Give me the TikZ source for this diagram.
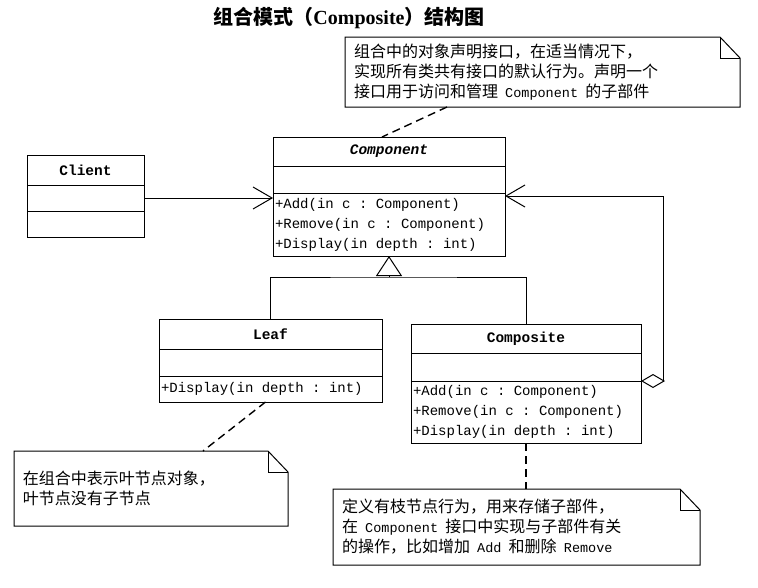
\documentclass[tikz,border=0pt]{standalone}
\usepackage{fontspec}
\setmainfont{Liberation Serif}
\setmonofont{Liberation Mono}
\newfontfamily\cjk{Noto Sans CJK SC}
\usetikzlibrary{arrows.meta, positioning, calc}
\newcommand{\cod}[1]{\hspace{0.45em}{\fontsize{13.5}{20}\selectfont\ttfamily #1}\hspace{0.45em}}
\newcommand{\piega}[1]{
\draw (#1.north west) -- ([xshift=-20pt]#1.north east) -- ([yshift=-21pt]#1.north east) -- (#1.south east) -- (#1.south west) -- cycle;
\draw ([xshift=-20pt]#1.north east) |- ([yshift=-21pt]#1.north east);
}

\begin{document}
\begin{tikzpicture}[x=1pt, y=-1pt, line width=1pt,
    parte/.style = {draw, outer sep=0pt, inner sep=2pt, anchor=north west},
    testa/.style = {parte, font=\fontsize{14.5}{16}\selectfont\ttfamily\bfseries},
    metodi/.style = {parte, align=flush left, font=\fontsize{14}{20}\selectfont\ttfamily},
    nota/.style = {outer sep=0pt, inner xsep=9pt, anchor=north west, align=flush left, font=\cjk\fontsize{16}{20}\selectfont},
    tratteggio/.style = {dash pattern=on 8pt off 5pt, line width=1.4pt},
    freccia/.style = {-{Straight Barb[length=19pt, width=22pt]}}]
    \useasboundingbox (0,0) rectangle (758,587);
    % Titolo
    \node[font=\fontsize{20}{24}\selectfont\bfseries] (titolo) at (349,18) {{\cjk 组合模式（}Composite{\cjk ）结构图}};
    % Classe Component
    \node[testa, minimum width=232pt, minimum height=29pt, font=\fontsize{14.5}{16}\selectfont\ttfamily\bfseries\itshape] (compT) at (273,137) {Component};
    \node[parte, below=0pt of compT, minimum width=232pt, minimum height=27pt] (compA) {};
    \node[metodi, below=0pt of compA, text width=228pt, minimum height=63pt] (compM) {+Add(in c : Component)\\+Remove(in c : Component)\\+Display(in depth : int)};
    % Classe Client
    \node[testa, minimum width=117pt, minimum height=30pt] (clientT) at (27,155) {Client};
    \node[parte, below=0pt of clientT, minimum width=117pt, minimum height=26pt] (clientA) {};
    \node[parte, below=0pt of clientA, minimum width=117pt, minimum height=26pt] (clientO) {};
    % Classe Leaf
    \node[testa, minimum width=223pt, minimum height=30pt] (leafT) at (159,319) {Leaf};
    \node[parte, below=0pt of leafT, minimum width=223pt, minimum height=27pt] (leafA) {};
    \node[metodi, below=0pt of leafA, text width=219pt, minimum height=26pt] (leafM) {+Display(in depth : int)};
    % Classe Composite
    \node[testa, minimum width=230pt, minimum height=29pt] (compoT) at (411,324) {Composite};
    \node[parte, below=0pt of compoT, minimum width=230pt, minimum height=28pt] (compoA) {};
    \node[metodi, below=0pt of compoA, text width=226pt, minimum height=62pt] (compoM) {+Add(in c : Component)\\+Remove(in c : Component)\\+Display(in depth : int)};
    % Associazione Client -> Component
    \draw[freccia] (clientA.east) -- (clientA.east -| compM.west);
    % Generalizzazione
    \coordinate (gen) at ([yshift=-21pt]compM.south);
    \draw[-{Triangle[open, length=20pt, width=26pt]}] (gen) -- (compM.south);
    \draw (leafT.north) |- (gen) -| (compoT.north);
    % Aggregazione Composite -> Component
    \draw[{Diamond[open, length=24pt, width=14pt]}-{Straight Barb[length=19pt, width=22pt]}] (compoA.south east) -- ++(22,0) |- ([yshift=-3pt]compM.north east);
    % Note
    \node[nota, text width=377pt, minimum height=70pt] (notaComp) at (345,37) {组合中的对象声明接口，在适当情况下，\\实现所有类共有接口的默认行为。声明一个\\接口用于访问和管理\cod{Component}的子部件};
    \piega{notaComp}
    \node[nota, text width=256pt, minimum height=75pt] (notaLeaf) at (14,451) {在组合中表示叶节点对象，\\叶节点没有子节点};
    \piega{notaLeaf}
    \node[nota, text width=349pt, minimum height=76pt] (notaCompo) at (333,489) {定义有枝节点行为，用来存储子部件，\\在\cod{Component}接口中实现与子部件有关\\的操作，比如增加\cod{Add}和删除\cod{Remove}};
    \piega{notaCompo}
    % Collegamenti delle note
    \draw[tratteggio] ([xshift=102pt]notaComp.south west) -- ([xshift=-7pt]compT.north);
    \draw[tratteggio] ([xshift=-5pt]leafM.south) -- ([xshift=189pt]notaLeaf.north west);
    \draw[tratteggio] (compoM.south) -- (compoM.south |- notaCompo.north);
\end{tikzpicture}
\end{document}
